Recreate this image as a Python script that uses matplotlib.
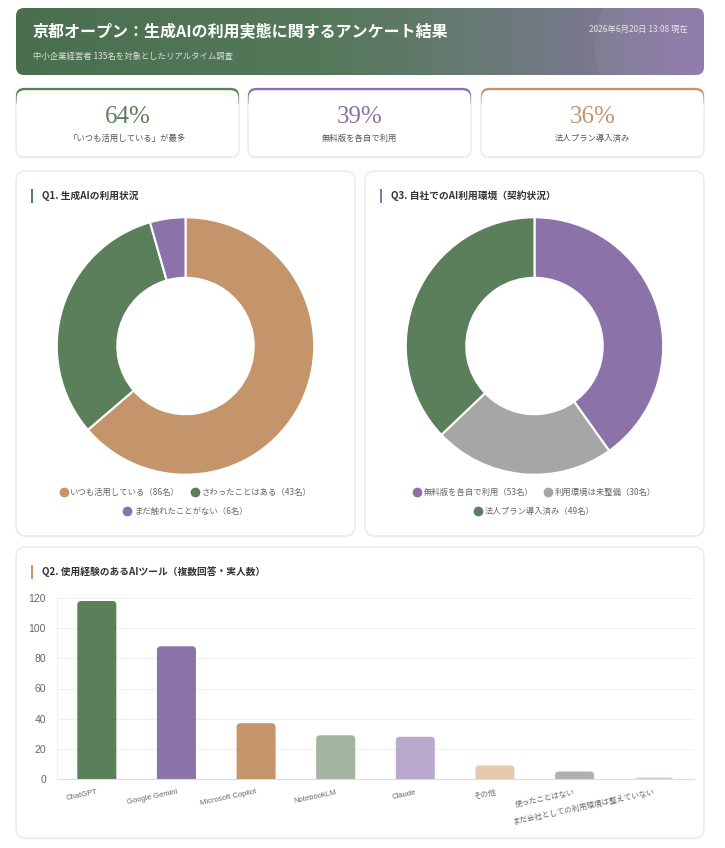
import matplotlib.pyplot as plt
import numpy as np
from matplotlib.patches import FancyBboxPatch, Rectangle, Circle
from matplotlib.lines import Line2D
from matplotlib.colors import to_rgb

plt.rcParams['font.family'] = ['Noto Sans CJK JP', 'DejaVu Sans']

W, H = 725, 848

# ---- data ----
title = "京都オープン：生成AIの利用実態に関するアンケート結果"
subtitle = "中小企業経営者 135名を対象としたリアルタイム調査"
stamp = "2026年6月20日 13:08 現在"

kpi_values = ["64%", "39%", "36%"]
kpi_labels = ["「いつも活用している」が最多", "無料版を各自で利用", "法人プラン導入済み"]

green, purple, tan, gray = "#5b7f5b", "#8b72a8", "#c4946a", "#a6a6a6"
kpi_colors = [green, purple, tan]

q1_title = "Q1. 生成AIの利用状況"
q1_labels = ["いつも活用している", "さわったことはある", "まだ触れたことがない"]
q1_values = [86, 43, 6]
q1_colors = [tan, green, purple]

q3_title = "Q3. 自社でのAI利用環境（契約状況）"
q3_labels = ["無料版を各自で利用", "利用環境は未整備", "法人プラン導入済み"]
q3_values = [53, 30, 49]
q3_colors = [purple, gray, green]

q2_title = "Q2. 使用経験のあるAIツール（複数回答・実人数）"
tools = ["ChatGPT", "Google Gemini", "Microsoft Copilot", "NotebookLM", "Claude",
         "その他", "使ったことはない", "まだ会社としての利用環境は整えていない"]
tool_counts = [118, 88, 37, 29, 28, 9, 5, 1]
tool_colors = [green, purple, tan, "#a3b5a0", "#b9aacd", "#e3c9ae", "#b0b0b0", "#c3d2c6"]

# ---- figure ----
fig = plt.figure(figsize=(W / 100, H / 100), dpi=100)
fig.patch.set_facecolor("white")


def px_axes(x, y, w, h):
    return fig.add_axes([x / W, 1 - (y + h) / H, w / W, h / H])


bg = fig.add_axes([0, 0, 1, 1])
bg.axis("off")


def card(x, y, w, h, r=10):
    bg.add_patch(FancyBboxPatch((x, y + 1.5), w, h, boxstyle=f"round,pad=0,rounding_size={r}",
                                fc="#000000", ec="none", alpha=0.03))
    bg.add_patch(FancyBboxPatch((x, y), w, h, boxstyle=f"round,pad=0,rounding_size={r}",
                                fc="white", ec="#e4e4e4", lw=0.8))


# header with gradient
hdr = FancyBboxPatch((16, 8), 688, 67, boxstyle="round,pad=0,rounding_size=8",
                     fc="none", ec="none")
bg.add_patch(hdr)
stops = [(0.0, "#4a6f4f"), (0.45, "#55785a"), (0.7, "#6a7a78"), (1.0, "#8c77aa")]
t = np.linspace(0, 1, 400)
rgb = np.zeros((1, len(t), 3))
for k in range(3):
    rgb[0, :, k] = np.interp(t, [s[0] for s in stops], [to_rgb(s[1])[k] for s in stops])
im = bg.imshow(rgb, extent=[16, 704, 75, 8], aspect="auto", interpolation="bilinear")
im.set_clip_path(hdr)
circ = Circle((690, 45), 95, fc="white", ec="none", alpha=0.05)
bg.add_patch(circ)
circ.set_clip_path(hdr)

bg.text(33, 32, title, color="white", fontsize=11.5, fontweight="bold", va="center")
bg.text(33, 56, subtitle, color="white", alpha=0.8, fontsize=6, va="center")
bg.text(688, 29, stamp, color="white", alpha=0.8, fontsize=6, va="center", ha="right")

# KPI cards
for i, x in enumerate([16, 248, 481]):
    w, y, h = 223, 88, 69
    bg.add_patch(FancyBboxPatch((x, y + 1.5), w, h, boxstyle="round,pad=0,rounding_size=8",
                                fc="#000000", ec="none", alpha=0.03))
    bg.add_patch(FancyBboxPatch((x, y), w, h, boxstyle="round,pad=0,rounding_size=8",
                                fc="white", ec="#e4e4e4", lw=0.8))
    bg.add_patch(FancyBboxPatch((x, y), w, 20, boxstyle="round,pad=0,rounding_size=8",
                                fc=kpi_colors[i], ec="none"))
    bg.add_patch(FancyBboxPatch((x + 0.6, y + 2.2), w - 1.2, 30, boxstyle="round,pad=0,rounding_size=8",
                                fc="white", ec="none"))
    cx = x + w / 2
    bg.text(cx, 117, kpi_values[i], color=kpi_colors[i], fontsize=18,
            family="Liberation Serif", ha="center", va="center")
    bg.text(cx, 138, kpi_labels[i], color="#555555", fontsize=6, ha="center", va="center")

# chart cards
card(16, 171, 339, 365)
card(365, 171, 339, 365)
card(16, 547, 688, 291)


def card_title(x, y, text, color):
    bg.add_patch(Rectangle((x, y - 7), 2.5, 14, fc=color, ec="none"))
    bg.text(x + 11, y, text, color="#333333", fontsize=7, fontweight="bold", va="center")


card_title(31, 196, q1_title, green)
card_title(380, 196, q3_title, purple)
card_title(31, 572, q2_title, tan)

bg.set_xlim(0, W)
bg.set_ylim(H, 0)


def donut(cx, cy, values, colors, labels):
    R = 130
    ax = px_axes(cx - R, cy - R, 2 * R, 2 * R)
    ax.pie(values, colors=colors, startangle=90, counterclock=False, radius=1,
           wedgeprops=dict(width=0.47, edgecolor="white", linewidth=1.5))
    ax.set_xlim(-1.01, 1.01)
    ax.set_ylim(-1.01, 1.01)
    handles = [Line2D([], [], ls="", marker="o", markersize=6, markerfacecolor=c,
                      markeredgecolor=c) for c in colors]
    names = [f"{l}（{v}名）" for l, v in zip(labels, values)]
    common = dict(frameon=False, fontsize=6, labelcolor="#666666", handletextpad=0.3,
                  columnspacing=1.3, loc="center", handlelength=1.0)
    fig.legend(handles[:2], names[:2], ncol=2, bbox_to_anchor=(cx / W, 1 - 492 / H), **common)
    fig.legend(handles[2:], names[2:], ncol=1, bbox_to_anchor=(cx / W, 1 - 511 / H), **common)


donut(185.5, 346, q1_values, q1_colors, q1_labels)
donut(534.5, 346, q3_values, q3_colors, q3_labels)

# bar chart
ax = px_axes(57, 598, 637, 181)
x = np.arange(len(tools))
bars = ax.bar(x, tool_counts, width=0.49, color=tool_colors)
px_x = 637 / len(tools)
px_y = 181 / 120
for b in bars:
    b.set_visible(False)
    ax.add_patch(FancyBboxPatch((b.get_x(), -4), b.get_width(), b.get_height() + 4,
                                boxstyle="round,pad=0,rounding_size=0.05",
                                mutation_aspect=px_x / px_y,
                                fc=b.get_facecolor(), ec="none"))
ax.set_xlim(-0.5, len(tools) - 0.5)
ax.set_ylim(0, 120)
ax.set_yticks(range(0, 121, 20))
ax.set_xticks(x)
ax.set_xticklabels(tools, rotation=12, ha="right", rotation_mode="anchor")
tick_font = ["Liberation Sans", "Noto Sans CJK JP"]
for lab in ax.get_xticklabels() + ax.get_yticklabels():
    lab.set_family(tick_font)
ax.tick_params(axis="y", length=0, pad=8, labelsize=7.5, labelcolor="#666666")
ax.tick_params(axis="x", length=0, pad=7, labelsize=5.5, labelcolor="#666666")
ax.grid(axis="y", color="#f0f0f0", linewidth=0.8)
ax.set_axisbelow(True)
for s in ["top", "right"]:
    ax.spines[s].set_visible(False)
ax.spines["left"].set_color("#f0f0f0")
ax.spines["bottom"].set_color("#dddddd")
ax.patch.set_alpha(0)

fig.savefig("out.png", dpi=100, facecolor="white")
